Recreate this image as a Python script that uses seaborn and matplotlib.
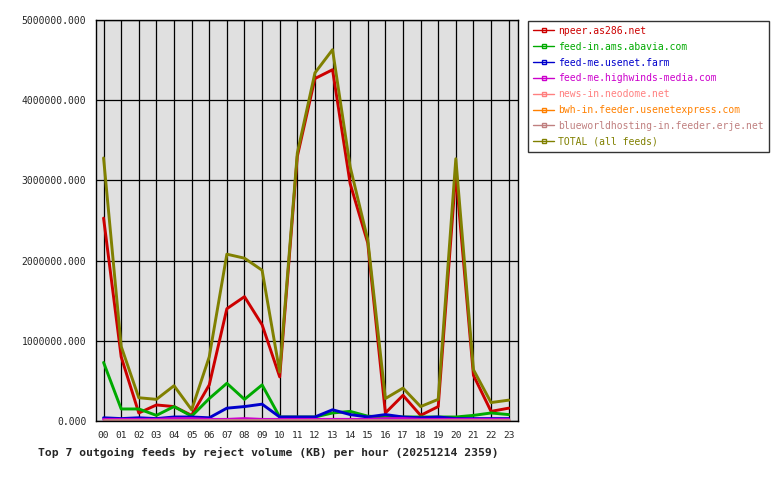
import pandas as pd
import numpy as np
import matplotlib
matplotlib.use('Agg')
import matplotlib.pyplot as plt
import seaborn as sns
from matplotlib.lines import Line2D

hours = ['00', '01', '02', '03', '04', '05', '06', '07', '08', '09', '10', '11',
         '12', '13', '14', '15', '16', '17', '18', '19', '20', '21', '22', '23']

# reject volume (KB) per hour
npeer = [2530000, 800000, 100000, 200000, 180000, 70000, 450000, 1400000, 1550000, 1200000, 550000, 3300000,
         4270000, 4380000, 2960000, 2220000, 100000, 320000, 70000, 180000, 3090000, 570000, 120000, 160000]
abavia = [730000, 150000, 150000, 70000, 180000, 60000, 280000, 470000, 270000, 450000, 50000, 50000,
          50000, 100000, 120000, 60000, 50000, 50000, 50000, 50000, 50000, 70000, 100000, 80000]
usenet_farm = [40000, 30000, 40000, 30000, 50000, 50000, 40000, 160000, 180000, 210000, 50000, 50000,
               50000, 140000, 80000, 50000, 80000, 50000, 40000, 50000, 30000, 30000, 30000, 30000]
highwinds = [20000, 20000, 20000, 20000, 30000, 30000, 20000, 20000, 30000, 20000, 20000, 20000,
             20000, 20000, 20000, 20000, 30000, 30000, 20000, 20000, 20000, 20000, 20000, 20000]
neodome = [5000, 5000, 5000, 5000, 5000, 5000, 5000, 5000, 5000, 5000, 5000, 5000,
           5000, 5000, 5000, 5000, 5000, 5000, 5000, 5000, 5000, 5000, 5000, 5000]
usenetexpress = [2000, 2000, 2000, 2000, 2000, 2000, 2000, 2000, 2000, 2000, 2000, 2000,
                 2000, 2000, 2000, 2000, 2000, 2000, 2000, 2000, 2000, 2000, 2000, 2000]
blueworld = [10000, 10000, 10000, 10000, 10000, 10000, 10000, 10000, 10000, 10000, 10000, 10000,
             10000, 10000, 10000, 10000, 10000, 10000, 10000, 10000, 10000, 10000, 10000, 10000]
total = [3280000, 930000, 290000, 270000, 440000, 140000, 800000, 2080000, 2030000, 1880000, 610000, 3340000,
         4340000, 4630000, 3170000, 2260000, 280000, 410000, 180000, 270000, 3270000, 640000, 230000, 260000]

feeds = ['npeer.as286.net', 'feed-in.ams.abavia.com', 'feed-me.usenet.farm',
         'feed-me.highwinds-media.com', 'news-in.neodome.net',
         'bwh-in.feeder.usenetexpress.com', 'blueworldhosting-in.feeder.erje.net',
         'TOTAL (all feeds)']
colors = ['#cc0000', '#00aa00', '#0000cc', '#cc00cc', '#ff8080', '#ff8000', '#c08080', '#808000']
series = [npeer, abavia, usenet_farm, highwinds, neodome, usenetexpress, blueworld, total]

rows = []
for name, vals in zip(feeds, series):
    for i, v in enumerate(vals):
        rows.append({'hour': i, 'feed': name, 'kb': v})
df = pd.DataFrame(rows)

sns.set_style('white')
plt.rcParams['font.family'] = ['DejaVu Sans Mono']

fig = plt.figure(figsize=(7.8, 4.8), dpi=100)
ax = fig.add_axes([96 / 780, 59 / 480, 422 / 780, 401 / 480])
ax.set_facecolor('#e0e0e0')

sns.lineplot(data=df, x='hour', y='kb', hue='feed', hue_order=feeds,
             palette=dict(zip(feeds, colors)), linewidth=2.1, legend=False, ax=ax)

ax.set_xlim(-0.43, 23.53)
ax.set_ylim(0, 5000000)
ax.set_xticks(range(24))
ax.set_xticklabels(hours, fontsize=6.8)
ax.set_yticks(np.arange(0, 5000001, 1000000))
ax.set_yticklabels([f'{v:.3f}' for v in np.arange(0, 5000001, 1000000)], fontsize=7)
ax.set_xlabel('')
ax.set_ylabel('')
ax.grid(True, color='black', linewidth=0.9)
ax.set_axisbelow(True)
ax.tick_params(axis='both', direction='out', length=5, width=0.8, color='black', pad=2)
for s in ax.spines.values():
    s.set_color('black')
    s.set_linewidth(1)

handles = [Line2D([0], [0], color=c, linewidth=1, marker='s', markersize=2.5,
                  markerfacecolor='none', markeredgecolor=c) for c in colors]
leg = fig.legend(handles, feeds, loc='upper left', bbox_to_anchor=(528 / 780, 1 - 21 / 480),
                 fontsize=7.0, frameon=True, fancybox=False, handlelength=2.2,
                 handletextpad=0.4, labelspacing=0.6, borderpad=0.5, borderaxespad=0)
leg.get_frame().set_edgecolor('black')
leg.get_frame().set_linewidth(1)
for t, c in zip(leg.get_texts(), colors):
    t.set_color(c)

fig.text(268 / 780, 1 - 452 / 480,
         'Top 7 outgoing feeds by reject volume (KB) per hour (20251214 2359)',
         ha='center', va='center', fontsize=8.2, fontweight='bold')

fig.savefig('out.png', dpi=100)
